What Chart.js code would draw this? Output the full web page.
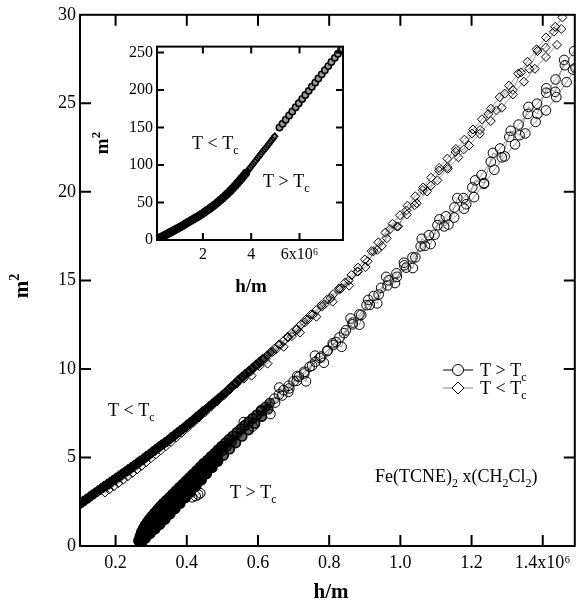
<!DOCTYPE html>
<html>
<head>
<meta charset="utf-8">
<script src="https://cdn.jsdelivr.net/npm/chart.js@4.4.0/dist/chart.umd.min.js"></script>
<style>
  body { margin: 0; background: #fff; }
  #wrap { position: relative; width: 582px; height: 607px; }
  #main { position: absolute; left: 0; top: 0; }
  #inset { position: absolute; left: 90px; top: 33px; }
</style>
</head>
<body>
<div id="wrap">
  <canvas id="main" width="582" height="607"></canvas>
  <canvas id="inset" width="260" height="270"></canvas>
</div>
<script>
// ---- main plot data (h/m in units of 1e6, m^2) ----
// T < Tc, first run (diamonds)
const belowH1 = [0.100, 0.108, 0.116, 0.125, 0.133, 0.141, 0.150, 0.158, 0.166, 0.175, 0.183, 0.191, 0.200, 0.209, 0.217, 0.226, 0.234, 0.243, 0.251, 0.260, 0.268, 0.277, 0.285, 0.294, 0.302, 0.311, 0.320, 0.328, 0.337, 0.346, 0.355, 0.364, 0.372, 0.381, 0.390, 0.399, 0.408, 0.417, 0.426, 0.435, 0.444, 0.453, 0.462, 0.471, 0.480, 0.489, 0.498, 0.508, 0.517, 0.526, 0.536, 0.545, 0.555, 0.564, 0.574, 0.584, 0.594, 0.604, 0.614, 0.625, 0.636, 0.647, 0.659, 0.671, 0.683, 0.695, 0.708, 0.721, 0.735, 0.749, 0.764, 0.779, 0.795, 0.811, 0.828, 0.845, 0.863, 0.881, 0.900, 0.919, 0.938, 0.958, 0.978, 0.999, 1.020, 1.042, 1.064, 1.086, 1.109, 1.132, 1.156, 1.180, 1.204, 1.229, 1.254, 1.279, 1.305, 1.331, 1.357, 1.383, 1.409, 1.435, 1.455];
const belowM1 = [2.38, 2.50, 2.61, 2.74, 2.86, 2.97, 3.10, 3.21, 3.33, 3.45, 3.56, 3.68, 3.80, 3.93, 4.04, 4.17, 4.28, 4.41, 4.52, 4.66, 4.78, 4.90, 5.03, 5.16, 5.29, 5.42, 5.56, 5.68, 5.81, 5.94, 6.09, 6.23, 6.36, 6.50, 6.64, 6.79, 6.93, 7.08, 7.24, 7.39, 7.55, 7.70, 7.86, 8.02, 8.17, 8.33, 8.48, 8.65, 8.82, 9.00, 9.18, 9.36, 9.54, 9.69, 9.86, 10.03, 10.21, 10.38, 10.55, 10.75, 10.96, 11.16, 11.38, 11.58, 11.81, 12.02, 12.27, 12.52, 12.80, 13.07, 13.33, 13.62, 13.93, 14.22, 14.55, 14.88, 15.30, 15.72, 16.18, 16.65, 17.15, 17.70, 18.20, 18.68, 19.22, 19.75, 20.25, 20.80, 21.35, 21.88, 22.42, 22.95, 23.52, 24.10, 24.70, 25.35, 26.00, 26.68, 27.35, 28.05, 28.72, 29.32, 29.85];
// T < Tc, second run
const belowH2 = [0.170, 0.182, 0.195, 0.208, 0.221, 0.234, 0.247, 0.260, 0.273, 0.286, 0.299, 0.313, 0.327, 0.341, 0.356, 0.371, 0.386, 0.402, 0.418, 0.434, 0.451, 0.468, 0.485, 0.503, 0.521, 0.540, 0.559, 0.579, 0.599, 0.620, 0.641, 0.663, 0.685, 0.708, 0.731, 0.755, 0.779, 0.804, 0.829, 0.855, 0.881, 0.908, 0.935, 0.962, 0.990, 1.018, 1.046, 1.075, 1.104, 1.133, 1.163, 1.193, 1.223, 1.254, 1.285, 1.316, 1.347, 1.378, 1.409, 1.440];
const belowM2 = [3.02, 3.19, 3.37, 3.55, 3.74, 3.93, 4.12, 4.32, 4.52, 4.73, 4.95, 5.17, 5.40, 5.63, 5.88, 6.14, 6.40, 6.68, 6.96, 7.25, 7.55, 7.86, 8.16, 8.49, 8.83, 9.17, 9.52, 9.86, 10.20, 10.58, 10.96, 11.38, 11.79, 12.20, 12.62, 13.08, 13.52, 14.00, 14.48, 15.00, 15.50, 16.08, 16.72, 17.38, 18.05, 18.72, 19.36, 20.02, 20.65, 21.30, 21.95, 22.62, 23.28, 24.00, 24.75, 25.50, 26.22, 26.95, 27.62, 28.30];
// T < Tc, third run
const belowH3 = [0.560, 0.582, 0.604, 0.627, 0.650, 0.672, 0.695, 0.718, 0.741, 0.764, 0.787, 0.810, 0.833, 0.856, 0.879, 0.902, 0.925, 0.948, 0.971, 0.994, 1.017, 1.040, 1.063, 1.086, 1.109, 1.132, 1.155, 1.178, 1.201, 1.224, 1.247, 1.270, 1.293, 1.316, 1.339, 1.362, 1.385, 1.408, 1.431, 1.452];
const belowM3 = [9.45, 9.62, 10.15, 10.30, 11.10, 11.25, 11.85, 12.05, 12.80, 12.95, 13.65, 13.80, 14.55, 14.70, 15.50, 15.75, 16.65, 16.95, 17.90, 18.05, 18.95, 19.25, 20.10, 20.35, 21.20, 21.40, 22.25, 22.40, 23.30, 23.50, 24.40, 24.60, 25.55, 25.75, 26.75, 26.95, 27.95, 28.15, 29.05, 29.20];
// T > Tc, first run (circles)
const aboveH1 = [0.266, 0.270, 0.274, 0.279, 0.284, 0.290, 0.296, 0.303, 0.310, 0.318, 0.326, 0.334, 0.343, 0.352, 0.361, 0.370, 0.379, 0.389, 0.398, 0.408, 0.418, 0.428, 0.438, 0.448, 0.458, 0.468, 0.478, 0.488, 0.498, 0.509, 0.519, 0.530, 0.541, 0.552, 0.563, 0.574, 0.586, 0.597, 0.609, 0.621, 0.633, 0.646, 0.659, 0.672, 0.686, 0.700, 0.715, 0.730, 0.745, 0.761, 0.777, 0.794, 0.811, 0.829, 0.847, 0.866, 0.885, 0.905, 0.925, 0.946, 0.967, 0.989, 1.011, 1.034, 1.057, 1.080, 1.104, 1.128, 1.152, 1.177, 1.202, 1.228, 1.254, 1.280, 1.306, 1.332, 1.358, 1.384, 1.410, 1.436, 1.462, 1.488];
const aboveM1 = [0.30, 0.55, 0.78, 0.98, 1.16, 1.33, 1.50, 1.67, 1.84, 2.02, 2.20, 2.37, 2.55, 2.73, 2.91, 3.09, 3.27, 3.46, 3.64, 3.84, 4.04, 4.24, 4.44, 4.64, 4.84, 5.04, 5.23, 5.43, 5.62, 5.82, 6.02, 6.21, 6.41, 6.61, 6.81, 7.01, 7.21, 7.40, 7.62, 7.86, 8.08, 8.32, 8.56, 8.80, 9.05, 9.30, 9.56, 9.84, 10.12, 10.40, 10.70, 11.00, 11.35, 11.78, 12.18, 12.62, 13.08, 13.60, 14.12, 14.58, 15.00, 15.40, 15.85, 16.30, 16.92, 17.55, 18.12, 18.62, 19.12, 19.65, 20.25, 20.95, 21.70, 22.45, 23.10, 23.80, 24.40, 24.98, 25.60, 26.35, 27.15, 27.95];
// T > Tc, second run
const aboveH2 = [0.272, 0.283, 0.296, 0.310, 0.324, 0.338, 0.352, 0.366, 0.380, 0.395, 0.410, 0.425, 0.440, 0.455, 0.471, 0.487, 0.503, 0.520, 0.537, 0.555, 0.573, 0.591, 0.610, 0.629, 0.648, 0.668, 0.688, 0.709, 0.730, 0.752, 0.774, 0.796, 0.819, 0.842, 0.866, 0.890, 0.914, 0.939, 0.964, 0.990, 1.016, 1.042, 1.069, 1.096, 1.123, 1.151, 1.179, 1.207, 1.235, 1.264, 1.293, 1.322, 1.351, 1.380, 1.409, 1.438, 1.467, 1.492];
const aboveM2 = [0.20, 0.45, 0.72, 0.98, 1.24, 1.52, 1.82, 2.12, 2.42, 2.74, 3.06, 3.40, 3.74, 4.08, 4.43, 4.78, 5.13, 5.48, 5.83, 6.20, 6.56, 6.92, 7.32, 7.72, 8.10, 8.50, 8.90, 9.33, 9.74, 10.18, 10.62, 11.05, 11.52, 12.02, 12.52, 13.05, 13.62, 14.20, 14.72, 15.20, 15.72, 16.30, 16.95, 17.58, 18.05, 18.55, 19.05, 19.70, 20.45, 21.25, 22.00, 22.68, 23.30, 23.95, 24.60, 25.35, 26.20, 27.00];
// T > Tc, third run
const aboveH3 = [0.560, 0.585, 0.610, 0.635, 0.660, 0.685, 0.710, 0.735, 0.760, 0.785, 0.810, 0.835, 0.860, 0.885, 0.910, 0.935, 0.960, 0.985, 1.010, 1.035, 1.060, 1.085, 1.110, 1.135, 1.160, 1.185, 1.210, 1.235, 1.260, 1.285, 1.310, 1.335, 1.360, 1.385, 1.410, 1.435, 1.460, 1.485];
const aboveM3 = [7.00, 6.75, 7.70, 7.45, 8.95, 8.70, 9.60, 9.30, 10.75, 10.35, 11.45, 11.25, 12.85, 12.50, 13.90, 13.70, 15.20, 14.85, 16.00, 15.70, 17.35, 17.05, 18.45, 18.15, 19.65, 19.30, 20.65, 20.50, 22.20, 21.95, 23.45, 23.20, 24.80, 24.40, 25.85, 25.65, 27.45, 26.90];
// T > Tc, low-field run lying between the first two
const aboveH4 = [0.278, 0.288, 0.299, 0.310, 0.321, 0.332, 0.344, 0.356, 0.368, 0.380, 0.392, 0.404, 0.416, 0.428, 0.440, 0.452, 0.464, 0.476, 0.488, 0.500, 0.512, 0.525];
const aboveM4 = [0.62, 0.95, 1.22, 1.45, 1.68, 1.93, 2.18, 2.43, 2.68, 2.92, 3.17, 3.42, 3.68, 3.93, 4.18, 4.43, 4.68, 4.92, 5.16, 5.40, 5.63, 5.88];
// T > Tc, a few stray points
const aboveH5 = [0.415, 0.425, 0.432, 0.438];
const aboveM5 = [2.75, 2.82, 2.90, 2.98];

const mainXTicks = [0.2, 0.4, 0.6, 0.8, 1.0, 1.2, 1.4];
const mainXLabels = ['0.2', '0.4', '0.6', '0.8', '1.0', '1.2', '1.4x10\u2076'];
const mainYTicks = [0, 5, 10, 15, 20, 25, 30];

// ---- inset data (h/m in units of 1e6) ----
const insetH1 = [0.12, 0.18, 0.25, 0.32, 0.40, 0.48, 0.57, 0.66, 0.76, 0.86, 0.96, 1.07, 1.18, 1.29, 1.40, 1.51, 1.62, 1.73, 1.84, 1.95, 2.06, 2.17, 2.28, 2.39, 2.50, 2.61, 2.72, 2.83, 2.93, 3.03, 3.13, 3.23, 3.33, 3.42, 3.51, 3.60, 3.69, 3.78];
const insetM1 = [1.2, 2.3, 3.4, 4.6, 5.9, 7.3, 8.8, 10.4, 12.0, 13.7, 15.5, 17.6, 19.6, 21.7, 23.9, 26.0, 28.0, 30.1, 32.3, 34.6, 37.0, 39.5, 42.0, 44.6, 47.3, 50.2, 53.1, 56.2, 59.2, 62.3, 65.5, 68.8, 72.2, 75.4, 78.7, 82.1, 85.6, 89.2];
const insetH2 = [3.84, 3.90, 3.96, 4.02, 4.08, 4.14, 4.20, 4.26, 4.32, 4.38, 4.44, 4.50, 4.56, 4.62, 4.68, 4.74, 4.80, 4.86, 4.92, 4.97];
const insetM2 = [91.5, 94, 96.5, 99, 101.5, 104, 106.5, 109, 111.5, 114, 116.5, 119, 121, 123.5, 126, 128.5, 131, 133.5, 136, 138.5];
const insetH3 = [5.17, 5.30, 5.43, 5.57, 5.70, 5.84, 5.97, 6.11, 6.24, 6.38, 6.51, 6.65, 6.78, 6.92, 7.05, 7.19, 7.32, 7.46, 7.59, 7.72, 7.76];
const insetM3 = [150, 155, 160.5, 166, 171.5, 177, 182.5, 188, 193.5, 199, 204.5, 210, 215.5, 221, 226.5, 232, 237.5, 243, 248.5, 253.5, 255];

const insetXTicks = [2, 4, 6];
const insetXLabels = ['2', '4', '6x10\u2076'];
const insetYTicks = [0, 50, 100, 150, 200, 250];

const SERIF = '"Liberation Serif", "Times New Roman", serif';

function pts(xs, ys) {
  return xs.map((v, i) => ({ x: v, y: ys[i] }));
}

// draws text where "_c" is a subscript char and "^2" a superscript char
function rich(ctx, x, y, str, size, bold, align) {
  const parts = [];
  for (let i = 0; i < str.length; i++) {
    const ch = str[i];
    if ((ch === '_' || ch === '^') && i + 1 < str.length) {
      parts.push({ t: str[i + 1], k: ch });
      i++;
    } else {
      if (parts.length && !parts[parts.length - 1].k) parts[parts.length - 1].t += ch;
      else parts.push({ t: ch, k: null });
    }
  }
  const fontFor = p => (bold ? 'bold ' : '') + (p.k ? Math.round(size * 0.68) : size) + 'px ' + SERIF;
  let w = 0;
  parts.forEach(p => { ctx.font = fontFor(p); p.w = ctx.measureText(p.t).width; w += p.w; });
  let cx = align === 'center' ? x - w / 2 : x;
  ctx.textAlign = 'left';
  ctx.textBaseline = 'alphabetic';
  parts.forEach(p => {
    ctx.font = fontFor(p);
    const dy = p.k === '_' ? size * 0.25 : p.k === '^' ? -size * 0.42 : 0;
    ctx.fillText(p.t, cx, y + dy);
    cx += p.w;
  });
}

const frame = {
  id: 'frame',
  afterDraw(chart, args, o) {
    const { ctx, chartArea: a, scales: { x, y } } = chart;
    ctx.save();
    ctx.strokeStyle = '#000';
    ctx.fillStyle = '#000';
    ctx.lineWidth = 2;
    ctx.beginPath();
    x.ticks.forEach(t => {
      const px = x.getPixelForValue(t.value);
      if (px <= a.left + 1 || px >= a.right - 1) return;
      ctx.moveTo(px, a.bottom); ctx.lineTo(px, a.bottom - o.len);
      ctx.moveTo(px, a.top); ctx.lineTo(px, a.top + o.len);
    });
    y.ticks.forEach(t => {
      const py = y.getPixelForValue(t.value);
      if (py <= a.top + 1 || py >= a.bottom - 1) return;
      ctx.moveTo(a.left, py); ctx.lineTo(a.left + o.len, py);
      ctx.moveTo(a.right, py); ctx.lineTo(a.right - o.len, py);
    });
    ctx.stroke();
    ctx.strokeRect(a.left, a.top, a.right - a.left, a.bottom - a.top);

    // axis titles
    rich(ctx, o.xTitle[0], o.xTitle[1], 'h/m', o.titleSize, true, 'center');
    ctx.save();
    ctx.translate(o.yTitle[0], o.yTitle[1]);
    ctx.rotate(-Math.PI / 2);
    rich(ctx, 0, 0, 'm^2', o.titleSize, true, 'center');
    ctx.restore();

    (o.notes || []).forEach(n => rich(ctx, n[0], n[1], n[2], n[3], false, 'left'));

    if (o.legend) {
      o.legend.forEach(l => {
        ctx.strokeStyle = l.line;
        ctx.lineWidth = 1;
        ctx.beginPath();
        ctx.moveTo(l.x0, l.y); ctx.lineTo(l.x0 + 30, l.y);
        ctx.stroke();
        ctx.strokeStyle = '#000';
        ctx.fillStyle = '#fff';
        ctx.beginPath();
        if (l.shape === 'circle') {
          ctx.arc(l.x0 + 15, l.y, 5.5, 0, Math.PI * 2);
        } else {
          ctx.moveTo(l.x0 + 15, l.y - 6); ctx.lineTo(l.x0 + 21, l.y);
          ctx.lineTo(l.x0 + 15, l.y + 6); ctx.lineTo(l.x0 + 9, l.y);
          ctx.closePath();
        }
        ctx.fill();
        ctx.stroke();
        ctx.fillStyle = '#000';
        rich(ctx, l.x0 + 37, l.y + 6, l.text, 18, false, 'left');
      });
    }
    ctx.restore();
  }
};

// the low-field part of the curves is so dense that it prints as a black band
const denseBorder = c => (c.raw && c.raw.x < 0.45 ? 2.4 : c.raw && c.raw.x < 0.62 ? 1.7 : 1);
const denseFill = c => {
  const h = c.raw ? c.raw.x : 1;
  if (h < 0.5) return '#000';
  if (h < 0.64) return 'rgba(0,0,0,0.6)';
  return 'rgba(255,255,255,0)';
};

function series(xs, ys, shape, r, bw, fill) {
  return {
    data: pts(xs, ys),
    showLine: true,
    borderColor: '#7a7a7a',
    borderWidth: 0.8,
    pointStyle: shape,
    pointRadius: r,
    pointBorderColor: '#000',
    pointBackgroundColor: fill || 'rgba(255,255,255,0)',
    pointBorderWidth: bw
  };
}

function fixTicks(values) {
  return s => { s.ticks = values.map(v => ({ value: v })); };
}

new Chart(document.getElementById('main'), {
  type: 'scatter',
  data: {
    datasets: [
      series(aboveH1, aboveM1, 'circle', 4.8, denseBorder, denseFill),
      series(aboveH2, aboveM2, 'circle', 4.8, denseBorder, denseFill),
      series(aboveH4, aboveM4, 'circle', 4.8, denseBorder, denseFill),
      series(aboveH3, aboveM3, 'circle', 4.8, 1),
      series(aboveH5, aboveM5, 'circle', 4.8, 1),
      series(belowH1, belowM1, 'rectRot', 4.5, denseBorder, denseFill),
      series(belowH2, belowM2, 'rectRot', 4.5, 1),
      series(belowH3, belowM3, 'rectRot', 4.5, 1)
    ]
  },
  options: {
    responsive: false,
    animation: false,
    devicePixelRatio: 1,
    layout: { padding: { top: 12, right: 3, left: 0, bottom: 0 } },
    plugins: {
      legend: { display: false },
      tooltip: { enabled: false },
      frame: {
        len: 11,
        titleSize: 21,
        xTitle: [331, 598],
        yTitle: [28, 286],
        notes: [
          [108, 416, 'T < T_c', 18],
          [230, 498, 'T > T_c', 18],
          [375, 482, 'Fe(TCNE)_2 x(CH_2Cl_2)', 18]
        ],
        legend: [
          { x0: 443, y: 370, shape: 'circle', line: '#000', text: 'T > T_c' },
          { x0: 443, y: 388, shape: 'diamond', line: '#888', text: 'T < T_c' }
        ]
      }
    },
    scales: {
      x: {
        type: 'linear',
        min: 0.1,
        max: 1.49,
        afterBuildTicks: fixTicks(mainXTicks),
        afterFit: s => { s.height = 61; },
        grid: { display: false, drawTicks: false },
        border: { display: false },
        ticks: {
          padding: 6,
          maxRotation: 0,
          autoSkip: false,
          color: '#000',
          font: { family: SERIF, size: 18 },
          callback: v => mainXLabels[mainXTicks.indexOf(Math.round(v * 10) / 10)]
        }
      },
      y: {
        min: 0,
        max: 30,
        afterBuildTicks: fixTicks(mainYTicks),
        afterFit: s => { s.width = 80; },
        grid: { display: false, drawTicks: false },
        border: { display: false },
        ticks: {
          padding: 4,
          autoSkip: false,
          color: '#000',
          font: { family: SERIF, size: 18 },
          callback: v => String(v)
        }
      }
    }
  },
  plugins: [frame]
});

function insetSeries(xs, ys, shape, r, bw, fill) {
  return {
    data: pts(xs, ys),
    showLine: false,
    pointStyle: shape,
    pointRadius: r,
    pointBorderColor: '#000',
    pointBackgroundColor: fill,
    pointBorderWidth: bw
  };
}

new Chart(document.getElementById('inset'), {
  type: 'scatter',
  data: {
    datasets: [
      insetSeries(insetH1, insetM1, 'circle', 3.6, 1.6, '#000'),
      insetSeries(insetH2, insetM2, 'rectRot', 3, 1.5, '#777'),
      insetSeries(insetH3, insetM3, 'circle', 3.2, 1.5, '#999')
    ]
  },
  options: {
    responsive: false,
    animation: false,
    devicePixelRatio: 1,
    layout: { padding: { top: 10, right: 7, left: 0, bottom: 0 } },
    plugins: {
      legend: { display: false },
      tooltip: { enabled: false },
      frame: {
        len: 7,
        titleSize: 19,
        xTitle: [161, 259],
        yTitle: [18, 110],
        notes: [
          [102, 116, 'T < T_c', 18],
          [173, 154, 'T > T_c', 18]
        ]
      }
    },
    scales: {
      x: {
        type: 'linear',
        min: 0.1,
        max: 7.8,
        afterBuildTicks: fixTicks(insetXTicks),
        afterFit: s => { s.height = 63; },
        grid: { display: false, drawTicks: false },
        border: { display: false },
        ticks: {
          padding: 5,
          maxRotation: 0,
          autoSkip: false,
          color: '#000',
          font: { family: SERIF, size: 16 },
          callback: v => insetXLabels[insetXTicks.indexOf(v)]
        }
      },
      y: {
        min: 0,
        max: 258,
        afterBuildTicks: fixTicks(insetYTicks),
        afterFit: s => { s.width = 67; },
        grid: { display: false, drawTicks: false },
        border: { display: false },
        ticks: {
          padding: 4,
          autoSkip: false,
          color: '#000',
          font: { family: SERIF, size: 16 },
          callback: v => String(v)
        }
      }
    }
  },
  plugins: [frame]
});
</script>
</body>
</html>
